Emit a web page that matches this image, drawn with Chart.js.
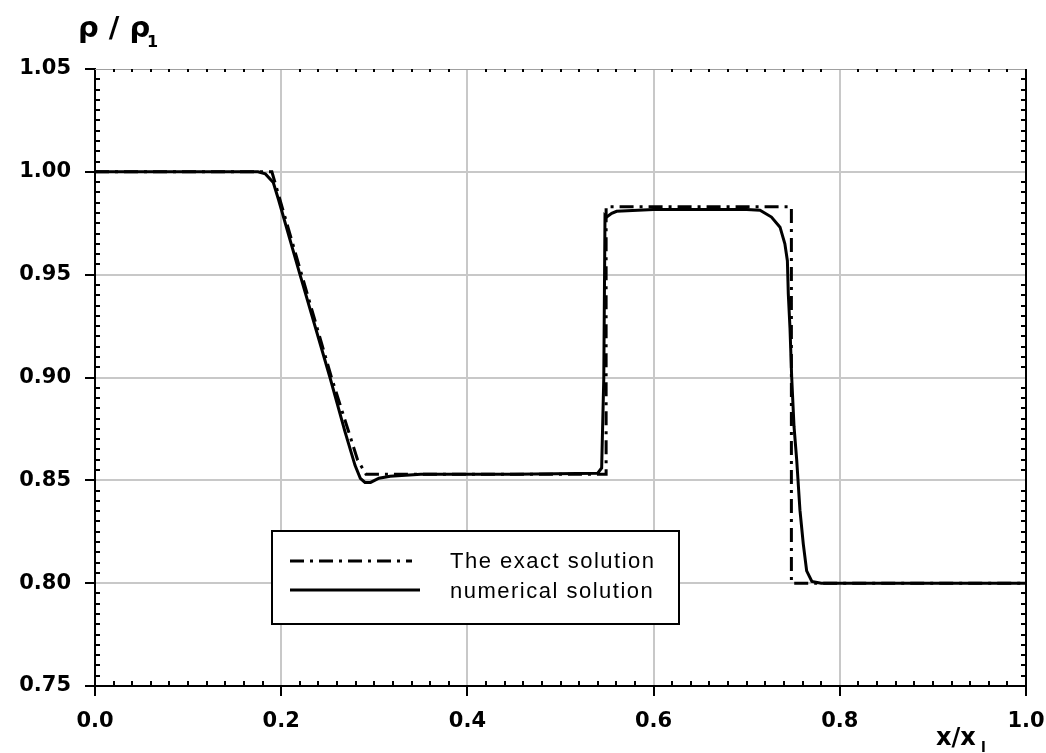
<!DOCTYPE html>
<html>
<head>
<meta charset="utf-8">
<script src="https://cdn.jsdelivr.net/npm/chart.js@4.4.1/dist/chart.umd.min.js"></script>
<style>
	body { margin: 0; background: #fff; }
	canvas { display: block; }
</style>
</head>
<body>
<canvas id="densityChart" width="1046" height="753"></canvas>
<script>
// exact solution (dash-dot)
const exactX = [0, 0.19, 0.222, 0.254, 0.282, 0.291, 0.549, 0.549, 0.748, 0.748, 1.0];
const exactY = [1.0, 1.0, 0.95, 0.9, 0.86, 0.853, 0.853, 0.983, 0.983, 0.8, 0.8];

// numerical solution (solid)
const numX = [0, 0.175, 0.183, 0.1915, 0.197, 0.2202, 0.2524, 0.2685, 0.2793, 0.285, 0.29, 0.296, 0.305, 0.317,
	0.35, 0.45, 0.54, 0.5442, 0.5465, 0.5478, 0.5496, 0.555, 0.5603, 0.6, 0.65, 0.7, 0.7143, 0.7266, 0.7358,
	0.741, 0.7437, 0.7447, 0.7465, 0.7483, 0.7508, 0.7537, 0.7572, 0.7608, 0.7644, 0.77, 0.78, 0.85, 1.0];
const numY = [1.0, 1.0, 0.999, 0.9948, 0.9867, 0.95, 0.9, 0.8737, 0.8573, 0.851, 0.849, 0.849, 0.851, 0.852,
	0.853, 0.853, 0.8535, 0.856, 0.9, 0.9788, 0.978, 0.9798, 0.9808, 0.9817, 0.9817, 0.9817, 0.9813, 0.978, 0.9731,
	0.965, 0.9568, 0.9405, 0.924, 0.9004, 0.8763, 0.86, 0.8355, 0.819, 0.806, 0.8008, 0.8, 0.8, 0.8];

const seriesNames = ["The exact solution", "numerical solution"];
const xTicks = { min: 0, max: 1, step: 0.2, minor: 0.02 };
const yTicks = { min: 0.75, max: 1.05, step: 0.05, minor: 0.005 };

const toPoints = (xs, ys) => xs.map((x, i) => ({ x: x, y: ys[i] }));

const exactDash = [14, 6, 3, 6];

// minor ticks on all four sides, the legend box and the axis titles
const decorations = {
	id: "decorations",
	afterDraw(chart) {
		const ctx = chart.ctx;
		const area = chart.chartArea;
		const xs = chart.scales.x;
		const ys = chart.scales.y;
		ctx.save();

		// top and right frame
		ctx.strokeStyle = "#a0a0a0";
		ctx.lineWidth = 1;
		ctx.beginPath();
		ctx.moveTo(area.left, area.top + 0.5);
		ctx.lineTo(area.right, area.top + 0.5);
		ctx.stroke();
		ctx.strokeStyle = "#000";
		ctx.lineWidth = 2;
		ctx.beginPath();
		ctx.moveTo(area.right, area.top);
		ctx.lineTo(area.right, area.bottom);
		ctx.stroke();

		ctx.lineWidth = 2;
		ctx.strokeStyle = "#000";
		ctx.beginPath();
		for (let i = 1; i * xTicks.minor < xTicks.max - 1e-9; i++) {
			if (i % 10 === 0) continue;
			const px = Math.round(xs.getPixelForValue(i * xTicks.minor));
			ctx.moveTo(px, area.bottom);
			ctx.lineTo(px, area.bottom - 5);
			ctx.moveTo(px, area.top);
			ctx.lineTo(px, area.top + 3);
		}
		for (let i = 1; yTicks.min + i * yTicks.minor < yTicks.max - 1e-9; i++) {
			if (i % 10 === 0) continue;
			const py = Math.round(ys.getPixelForValue(yTicks.min + i * yTicks.minor));
			ctx.moveTo(area.left, py);
			ctx.lineTo(area.left + 5, py);
			ctx.moveTo(area.right, py);
			ctx.lineTo(area.right - 5, py);
		}
		ctx.stroke();

		// legend
		const lx = 272, ly = 531, lw = 407, lh = 93;
		ctx.fillStyle = "#fff";
		ctx.fillRect(lx, ly, lw, lh);
		ctx.strokeStyle = "#000";
		ctx.lineWidth = 2;
		ctx.strokeRect(lx, ly, lw, lh);

		ctx.lineWidth = 3;
		ctx.setLineDash(exactDash);
		ctx.beginPath();
		ctx.moveTo(290, 561);
		ctx.lineTo(412, 561);
		ctx.stroke();
		ctx.setLineDash([]);
		ctx.beginPath();
		ctx.moveTo(290, 590);
		ctx.lineTo(420, 590);
		ctx.stroke();

		ctx.fillStyle = "#000";
		ctx.font = "22px 'Liberation Sans', Arial, sans-serif";
		ctx.letterSpacing = "1.5px";
		ctx.textBaseline = "middle";
		ctx.textAlign = "left";
		ctx.fillText(seriesNames[0], 450, 562);
		ctx.fillText(seriesNames[1], 450, 592);
		ctx.letterSpacing = "0px";

		// axis titles
		ctx.font = "bold 29px 'DejaVu Sans', sans-serif";
		ctx.textBaseline = "alphabetic";
		ctx.fillText("\u03c1 / \u03c1", 78, 37);
		ctx.font = "bold 16px 'DejaVu Sans', sans-serif";
		ctx.fillText("1", 147, 47);

		ctx.font = "bold 24px 'DejaVu Sans', sans-serif";
		ctx.fillText("x/x", 936, 745);
		ctx.font = "bold 14px 'DejaVu Sans', sans-serif";
		ctx.fillText("l", 981, 752);

		ctx.restore();
	},
};

const gridColor = "#c8c8c8";
const tickFont = { family: "'DejaVu Sans', sans-serif", weight: "bold", size: 21 };

new Chart(document.getElementById("densityChart").getContext("2d"), {
	type: "line",
	data: {
		datasets: [
			{
				label: seriesNames[0],
				data: toPoints(exactX, exactY),
				borderColor: "#000",
				borderWidth: 3,
				borderDash: exactDash,
				pointRadius: 0,
				tension: 0,
				fill: false,
			},
			{
				label: seriesNames[1],
				data: toPoints(numX, numY),
				borderColor: "#000",
				borderWidth: 3,
				pointRadius: 0,
				tension: 0,
				fill: false,
			},
		],
	},
	options: {
		responsive: false,
		animation: false,
		layout: {
			autoPadding: false,
			padding: { top: 69, right: 20, left: 0, bottom: 0 },
		},
		plugins: {
			legend: { display: false },
			tooltip: { enabled: false },
		},
		scales: {
			x: {
				type: "linear",
				min: xTicks.min,
				max: xTicks.max,
				afterFit: (scale) => {
					scale.height = 67;
					scale.paddingLeft = 0;
					scale.paddingRight = 0;
				},
				ticks: {
					stepSize: xTicks.step,
					color: "#000",
					padding: 13,
					maxRotation: 0,
					font: tickFont,
					callback: (v) => v.toFixed(1),
				},
				grid: {
					color: gridColor,
					lineWidth: 2,
					tickColor: "#000",
					tickLength: 10,
				},
				border: { display: true, color: "#000", width: 2 },
			},
			y: {
				type: "linear",
				min: yTicks.min,
				max: yTicks.max,
				afterFit: (scale) => {
					scale.width = 95;
					scale.paddingTop = 0;
					scale.paddingBottom = 0;
				},
				ticks: {
					stepSize: yTicks.step,
					color: "#000",
					padding: 14,
					font: tickFont,
					callback: (v) => v.toFixed(2),
				},
				grid: {
					color: (c) => (c.tick && Math.abs(c.tick.value - yTicks.max) < 1e-6 ? "rgba(0,0,0,0)" : gridColor),
					lineWidth: 2,
					tickColor: "#000",
					tickLength: 10,
				},
				border: { display: true, color: "#000", width: 2 },
			},
		},
	},
	plugins: [decorations],
});
</script>
</body>
</html>
